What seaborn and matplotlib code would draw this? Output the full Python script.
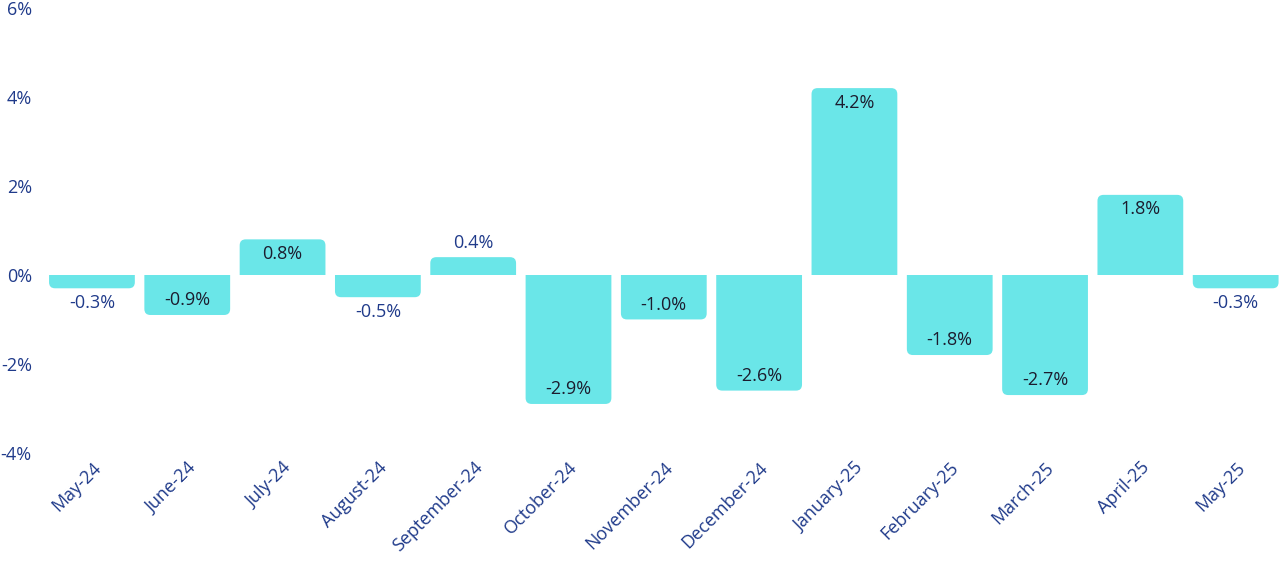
import matplotlib
matplotlib.use("Agg")
import matplotlib.pyplot as plt
import seaborn as sns
import pandas as pd
from matplotlib.patches import FancyBboxPatch, Rectangle

# dados
meses = ['May-24', 'June-24', 'July-24', 'August-24', 'September-24', 'October-24',
         'November-24', 'December-24', 'January-25', 'February-25', 'March-25',
         'April-25', 'May-25']
variacao = [-0.3, -0.9, 0.8, -0.5, 0.4, -2.9, -1.0, -2.6, 4.2, -1.8, -2.7, 1.8, -0.3]
yticks = [-4, -2, 0, 2, 4, 6]

azul = '#1f3a8a'
ciano = '#6ae6e8'

sns.set_style('white')
plt.rcParams['font.family'] = ['Open Sans', 'DejaVu Sans']

df = pd.DataFrame({'mes': meses, 'var': variacao})

fig = plt.figure(figsize=(12.8, 5.74), dpi=100)
ax = fig.add_axes([0.0346, 0.211, 0.968, 0.775])

sns.barplot(data=df, x='mes', y='var', color=ciano, width=0.9, ax=ax, saturation=1)
ax.set_ylim(-4, 6)
ax.set_xlim(-0.5, len(meses) - 0.5)

# arredondar a ponta das barras
fig.canvas.draw()
px_x = ax.transData.transform((1, 0))[0] - ax.transData.transform((0, 0))[0]
px_y = ax.transData.transform((0, 1))[1] - ax.transData.transform((0, 0))[1]
raio_px = 6
rx = raio_px / px_x
aspecto = px_x / px_y
for p, v in zip(list(ax.patches), variacao):
    x0 = p.get_x()
    w = p.get_width()
    p.set_visible(False)
    ext = rx * aspecto * 2
    if v >= 0:
        y0, h = -ext, v + ext
    else:
        y0, h = v, -v + ext
    caixa = FancyBboxPatch((x0, y0), w, h,
                           boxstyle=f'round,pad=0,rounding_size={rx}',
                           mutation_aspect=aspecto, facecolor=ciano,
                           edgecolor='none')
    ax.add_patch(caixa)
    clip = Rectangle((x0 - 1, 0 if v >= 0 else v - 1), w + 2, abs(v) + 1,
                     transform=ax.transData)
    caixa.set_clip_path(clip)

# rótulos
for i, v in enumerate(variacao):
    dentro = abs(v) >= 0.6
    sinal = 1 if v >= 0 else -1
    off = -10.5 * sinal if dentro else 10.5 * sinal
    cor = '#1c1c2e' if dentro else azul
    ax.annotate(f'{v:.1f}%', (i, v), xytext=(0, off), textcoords='offset points',
                ha='center', va='center', fontsize=13, color=cor)

ax.set_yticks(yticks)
ax.set_yticklabels([f'{t}%' for t in yticks])
ax.set_xlabel('')
ax.set_ylabel('')
ax.tick_params(axis='both', length=0, colors=azul, labelsize=13)
ax.tick_params(axis='y', pad=9)
ax.tick_params(axis='x', pad=4)
for lab in ax.get_xticklabels():
    lab.set_rotation(45)
    lab.set_ha('right')
    lab.set_rotation_mode('anchor')
for lab in ax.get_yticklabels():
    lab.set_ha('right')
sns.despine(ax=ax, left=True, bottom=True)

fig.savefig('out.png', dpi=100)
